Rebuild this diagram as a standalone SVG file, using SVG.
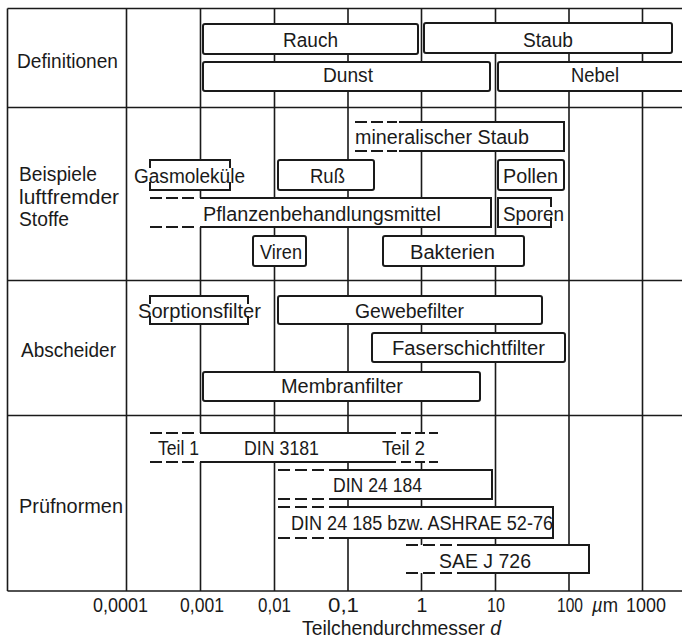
<svg xmlns="http://www.w3.org/2000/svg" width="682" height="638" viewBox="0 0 682 638">
<style>
.g{stroke:#1a1a1a;stroke-width:1.6;fill:none}
.w{fill:#fff;stroke:none}
.b{fill:#fff;stroke:#1a1a1a;stroke-width:2}
.s{fill:none;stroke:#1a1a1a;stroke-width:2}
.d{fill:none;stroke:#1a1a1a;stroke-width:2;stroke-dasharray:12 4}
text{font-family:"Liberation Sans",Arial,sans-serif;font-size:20px;fill:#1a1a1a}
.ax{font-size:19.5px}
</style>
<rect width="682" height="638" fill="#fff"/>
<g id="grid" class="g">
<path d="M7.5,8.5H682M7.5,107.5H682M7.5,280.5H682M7.5,415.5H682M7.5,591H682"/>
<path d="M7.5,8.5V591M126.5,8.5V591M200.5,8.5V591M274.5,8.5V591M348,8.5V591M421.5,8.5V591M495.5,8.5V591M569,8.5V591M642.5,8.5V591"/>
</g>
<g id="connectors"></g>
<g id="labels">
<text x="17" y="68" textLength="101" lengthAdjust="spacingAndGlyphs">Definitionen</text>
<text x="19" y="181" textLength="78" lengthAdjust="spacingAndGlyphs">Beispiele</text>
<text x="19" y="204" textLength="100" lengthAdjust="spacingAndGlyphs">luftfremder</text>
<text x="19" y="226" textLength="50" lengthAdjust="spacingAndGlyphs">Stoffe</text>
<text x="21" y="357" textLength="95" lengthAdjust="spacingAndGlyphs">Abscheider</text>
<text x="19" y="513" textLength="104" lengthAdjust="spacingAndGlyphs">Prüfnormen</text>
</g>
<g id="rauch"><rect class="b" x="203" y="24" width="215" height="30" rx="2"/><text x="283" y="47" textLength="55" lengthAdjust="spacingAndGlyphs">Rauch</text></g>
<g id="staub"><rect class="b" x="424" y="23" width="248" height="30" rx="2"/><text x="523" y="46.5" textLength="50" lengthAdjust="spacingAndGlyphs">Staub</text></g>
<g id="dunst"><rect class="b" x="203" y="62" width="287" height="29" rx="2"/><text x="323" y="82" textLength="50" lengthAdjust="spacingAndGlyphs">Dunst</text></g>
<g id="nebel"><rect class="b" x="498" y="62" width="200" height="29" rx="2"/><text x="571" y="82" textLength="48" lengthAdjust="spacingAndGlyphs">Nebel</text></g>
<g id="mineral"><rect class="w" x="355" y="122" width="209" height="29"/><path class="s" d="M399,122H564V151H399"/><path class="d" d="M355,122H397M355,151H397"/><text x="355" y="144" textLength="174" lengthAdjust="spacingAndGlyphs">mineralischer Staub</text></g>
<g id="gas"><rect class="w" x="150" y="160" width="80" height="30"/><path class="s" d="M150,168V160H230V168M150,182V190H230V182"/><text x="134" y="183" textLength="111" lengthAdjust="spacingAndGlyphs">Gasmoleküle</text></g>
<g id="russ"><rect class="b" x="278" y="160" width="96" height="30" rx="2"/><text x="310" y="183" textLength="35" lengthAdjust="spacingAndGlyphs">Ruß</text></g>
<g id="pollen"><rect class="b" x="498" y="160" width="66" height="30" rx="2"/><text x="503" y="183" textLength="55" lengthAdjust="spacingAndGlyphs">Pollen</text></g>
<g id="pflanzen"><rect class="w" x="150" y="198" width="341" height="29"/><path class="s" d="M200,198H491V227H200"/><path class="d" d="M150,198H196M150,227H196"/><text x="203" y="221" textLength="238" lengthAdjust="spacingAndGlyphs">Pflanzenbehandlungsmittel</text></g>
<g id="sporen"><rect class="w" x="498" y="198" width="53" height="29"/><path class="s" d="M551,207V198H498V227H551V217"/><text x="503" y="221" textLength="61" lengthAdjust="spacingAndGlyphs">Sporen</text></g>
<g id="viren"><rect class="b" x="253" y="236" width="53" height="30" rx="2"/><text x="260" y="259" textLength="42" lengthAdjust="spacingAndGlyphs">Viren</text></g>
<g id="bakterien"><rect class="b" x="383" y="236" width="141" height="30" rx="2"/><text x="410" y="259" textLength="85" lengthAdjust="spacingAndGlyphs">Bakterien</text></g>
<g id="sorption"><rect class="w" x="150" y="296" width="98" height="28"/><path class="s" d="M150,304V296H248V304M150,316V324H248V316"/><text x="138" y="318" textLength="123" lengthAdjust="spacingAndGlyphs">Sorptionsfilter</text></g>
<g id="gewebe"><rect class="b" x="278" y="296" width="264" height="28" rx="2"/><text x="355" y="318" textLength="109" lengthAdjust="spacingAndGlyphs">Gewebefilter</text></g>
<g id="faser"><rect class="b" x="372" y="333" width="193" height="29" rx="2"/><text x="392" y="355" textLength="153" lengthAdjust="spacingAndGlyphs">Faserschichtfilter</text></g>
<g id="membran"><rect class="b" x="203" y="372" width="277" height="29" rx="2"/><text x="281" y="393" textLength="122" lengthAdjust="spacingAndGlyphs">Membranfilter</text></g>
<g id="din3181"><rect class="w" x="150" y="433" width="288" height="29"/><path class="s" d="M200,433H396M200,462H396"/><path class="d" d="M150,433H194M150,462H194"/><path class="d" style="stroke-dasharray:10 4" d="M401,433H438M401,462H438"/><text x="158" y="455" textLength="41" lengthAdjust="spacingAndGlyphs">Teil 1</text><text x="244" y="455" textLength="75" lengthAdjust="spacingAndGlyphs">DIN 3181</text><text x="382" y="455" textLength="43" lengthAdjust="spacingAndGlyphs">Teil 2</text></g>
<g id="din24184"><rect class="w" x="278" y="470" width="214" height="29"/><path class="s" d="M329,470H492V499H329"/><path class="d" style="stroke-dasharray:12 5" d="M278,470H324M278,499H324"/><text x="333" y="492" textLength="89" lengthAdjust="spacingAndGlyphs">DIN 24 184</text></g>
<g id="din24185"><rect class="w" x="278" y="507" width="275" height="31"/><path class="s" d="M329,507H553V538H329"/><path class="d" style="stroke-dasharray:12 5" d="M278,507H324M278,538H324"/><text x="291" y="530" textLength="262" lengthAdjust="spacingAndGlyphs">DIN 24 185 bzw. ASHRAE 52-76</text></g>
<g id="sae"><rect class="w" x="406" y="545" width="183" height="28"/><path class="s" d="M457,545H589V573H457"/><path class="d" style="stroke-dasharray:12 5" d="M406,545H452M406,573H452"/><text x="439" y="568" textLength="92" lengthAdjust="spacingAndGlyphs">SAE J 726</text></g>
<g id="axis">
<text class="ax" x="93" y="612" textLength="55" lengthAdjust="spacingAndGlyphs">0,0001</text>
<text class="ax" x="180" y="612" textLength="44" lengthAdjust="spacingAndGlyphs">0,001</text>
<text class="ax" x="258" y="612" textLength="33" lengthAdjust="spacingAndGlyphs">0,01</text>
<text class="ax" x="328" y="612" textLength="31" lengthAdjust="spacingAndGlyphs">0,1</text>
<text class="ax" x="422" y="612" text-anchor="middle">1</text>
<text class="ax" x="487" y="612" textLength="18" lengthAdjust="spacingAndGlyphs">10</text>
<text class="ax" x="557" y="612" textLength="26" lengthAdjust="spacingAndGlyphs">100</text>
<text class="ax" x="592" y="612" textLength="26" lengthAdjust="spacingAndGlyphs"><tspan font-style="italic">µ</tspan>m</text>
<text class="ax" x="626" y="612" textLength="40" lengthAdjust="spacingAndGlyphs">1000</text>
<text class="ax" x="302" y="634.5" textLength="199" lengthAdjust="spacingAndGlyphs">Teilchendurchmesser <tspan font-style="italic">d</tspan></text>
</g>
</svg>
